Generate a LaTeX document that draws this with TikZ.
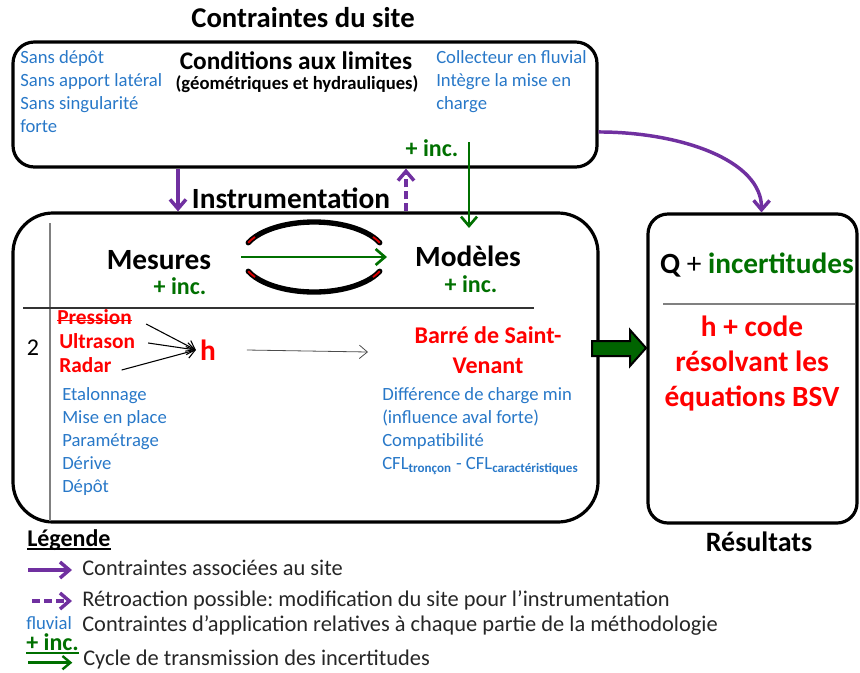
\documentclass[tikz,border=0pt]{standalone}
\usepackage{fontspec}
\setmainfont{Carlito}
\usepackage{xcolor}
\usetikzlibrary{positioning,calc,arrows.meta,fit}

\definecolor{sitepurple}{RGB}{112,48,160}
\definecolor{constrblue}{RGB}{40,120,200}
\definecolor{incgreen}{RGB}{0,112,0}
\definecolor{arrowgreen}{RGB}{0,100,0}
\frenchspacing

\begin{document}
\begin{tikzpicture}[
    x=0.75pt, y=-0.75pt,
    every node/.style={inner sep=0pt},
    box/.style={draw=black, line width=2.4pt},
    bluetxt/.style={text=constrblue, font=\fontsize{14}{17}\selectfont, anchor=west, text height=10pt, text depth=3pt},
    title/.style={font=\bfseries\fontsize{21.5}{25}\selectfont},
    part/.style={font=\bfseries\fontsize{22}{26}\selectfont},
    inc/.style={text=incgreen, font=\bfseries\fontsize{18}{21}\selectfont},
    redtxt/.style={text=red, font=\bfseries\fontsize{16}{19}\selectfont, anchor=west, text height=11pt, text depth=3pt},
    legtxt/.style={text=black!85, font=\fontsize{16.8}{19}\selectfont, anchor=west, text height=11pt, text depth=3.5pt},
    sitearrow/.style={sitepurple, line width=2.6pt, -{Straight Barb[length=7pt,width=12pt]}},
    retroarrow/.style={sitearrow, dash pattern=on 6pt off 3pt},
    incarrow/.style={incgreen, line width=2pt, -{Straight Barb[length=7pt,width=12pt]}},
    harrow/.style={black, line width=0.8pt, -{Straight Barb[length=6pt,width=9pt]}},
    cycle/.style={black, line width=4pt, line cap=round},
]
\useasboundingbox (0,0) rectangle (860,672);

% =====================================================================
% Contraintes du site
% =====================================================================
\node[title] (sitetitle) at (303,18) {Contraintes du site};
\node[box, rounded corners=16pt, fit={(13,42) (597,167)}] (site) {};

\foreach \t [count=\i from 0] in {Sans dépôt, Sans apport latéral, Sans singularité, forte}
    \node[bluetxt] (siteleft\i) at (20,59+23*\i) {\t};
\foreach \t [count=\i from 0] in {Collecteur en fluvial, Intègre la mise en, charge}
    \node[bluetxt] (siteright\i) at (436,59+23*\i) {\t};

\node[font=\bfseries\fontsize{19}{22}\selectfont] (cond) at (296,61) {Conditions aux limites};
\node[font=\bfseries\fontsize{14}{17}\selectfont] (geom) at (297,84) {(géométriques et hydrauliques)};
\node[inc] (incsite) at (432,148) {+ inc.};

% =====================================================================
% Instrumentation : mesures / modeles
% =====================================================================
\node[part] (instrtitle) at (291,198) {Instrumentation};
\node[box, rounded corners=30pt, fit={(13,213) (598,522)}] (instr) {};
\draw[gray, line width=1.1pt] (50,223) -- (50,521);
\draw[black!80, line width=0.8pt] (23,308) -- (534,308);

\node[part] (mesures) at (159,260) {Mesures};
\node[inc] (incmes) at (180,286) {+ inc.};
\node[part] (modeles) at (468,256) {Modèles};
\node[inc] (incmod) at (471,284) {+ inc.};

% cycle between mesures and modeles
\coordinate (cyc) at (314,257);
\draw[cycle] (cyc) ++(204:72 and 35) arc[start angle=204, end angle=336, x radius=72, y radius=35];
\draw[cycle] (cyc) ++(156:72 and 35) arc[start angle=156, end angle=24, x radius=72, y radius=35];
\foreach \a/\b in {204/215, 325/336, 156/145, 24/35}
    \draw[red!85!black, line width=1.4pt] (cyc) ++(\a:72 and 35) arc[start angle=\a, end angle=\b, x radius=72, y radius=35];
\coordinate (cycin) at (241,257);
\coordinate (cycout) at (387,257);
\draw[incarrow] (cycin) -- (cycout);

\node[font=\fontsize{18}{21}\selectfont] (two) at (33,348) {2};

\node[redtxt] (pression) at (57,319) {Pression};
\draw[red, line width=1.2pt] ([yshift=-1pt]pression.west) -- ([yshift=-1pt]pression.east);
\node[redtxt] (ultrason) at (59,343) {Ultrason};
\node[redtxt] (radar) at (59,367) {Radar};
\node[text=red, font=\bfseries\fontsize{22}{26}\selectfont, inner sep=3pt] (h) at (208,350) {h};
\draw[harrow] ($(pression.east)+(14,5)$) -- (h.west);
\draw[harrow] ($(ultrason.east)+(13,0)$) -- (h.west);
\draw[harrow] ($(radar.east)+(10,3)$) -- (h.west);

\node[text=red, font=\bfseries\fontsize{18}{22.5}\selectfont, align=center] (bsv) at (488,350) {Barré de Saint-\\Venant};
\coordinate (hend) at (368,352);
\draw[black!70, line width=0.6pt, -{Straight Barb[length=6pt,width=10pt]}] ([xshift=20pt]h.east) -- (hend);

\foreach \t [count=\i from 0] in {Etalonnage, Mise en place, Paramétrage, Dérive, Dépôt}
    \node[bluetxt] (mesconstr\i) at (62,396+23*\i) {\t};
\foreach \t [count=\i from 0] in {Différence de charge min, (influence aval forte), Compatibilité}
    \node[bluetxt] (modconstr\i) at (382,396+23*\i) {\t};
\node[bluetxt] (cfl) at (382,465) {CFL\textsubscript{\bfseries tronçon} - CFL\textsubscript{\bfseries caractéristiques}};

% =====================================================================
% Resultats
% =====================================================================
\node[box, rounded corners=15pt, fit={(648,214) (857,523)}] (res) {};
\node[part] (q) at (757,265) {Q \mdseries+ \bfseries\textcolor{incgreen}{incertitudes}};
\draw[gray, line width=1.5pt] (663,304) -- (855,304);
\node[text=red, font=\bfseries\fontsize{22}{26.25}\selectfont, align=center] (code) at (752,364) {h + code\\résolvant les\\équations BSV};
\node[font=\bfseries\fontsize{21}{25}\selectfont] (restitle) at (759,542) {Résultats};

% block arrow towards the results
\draw[fill=arrowgreen, draw=black, line width=1.5pt]
    (592,341) -- (630,341) -- (630,330) -- (646,348) -- (630,366) -- (630,356) -- (592,356) -- cycle;

% =====================================================================
% Arrows between the boxes
% =====================================================================
\coordinate (xsite) at (178,0);
\coordinate (xretro) at (406,0);
\draw[sitearrow] (site.south -| xsite) -- (instr.north -| xsite);
\draw[retroarrow] (instr.north -| xretro) -- (site.south -| xretro);
\coordinate (gtop) at (469,142);
\coordinate (gbot) at (469,228);
\draw[incarrow] (gtop) -- (gbot);
\draw[sitearrow] ([yshift=-20.6pt]site.east) .. controls (680,132) and (762,160) .. ([xshift=6.75pt]res.north);

% =====================================================================
% Legende
% =====================================================================
\node[font=\bfseries\fontsize{18}{21}\selectfont, anchor=base west, text depth=0pt] (legtitle) at (27,546) {Légende};
\draw[line width=1.2pt] ([yshift=-2pt]legtitle.south west) -- ([yshift=-2pt]legtitle.south east);
\node[legtxt] (leg1) at (82,570) {Contraintes associées au site};
\node[legtxt] (leg2) at (82,601) {Rétroaction possible: modification du site pour l’instrumentation};
\node[legtxt] (leg3) at (82,626) {Contraintes d’application relatives à chaque partie de la méthodologie};
\node[legtxt] (leg4) at (83,660) {Cycle de transmission des incertitudes};
\node[bluetxt, anchor=base west, text depth=0pt] (legfluvial) at (26,629) {fluvial};
\node[inc, anchor=base west, text depth=0pt, text height=10pt] (leginc) at (26,650) {+ inc.};
\draw[incgreen, line width=1.2pt] ([yshift=-2pt]leginc.south west) -- ([yshift=-2pt]leginc.south east);
\draw[sitearrow] ([xshift=-40.5pt]leg1.west) -- ([xshift=-7.5pt]leg1.west);
\draw[retroarrow] ([xshift=-37.5pt]leg2.west) -- ([xshift=-7.5pt]leg2.west);
\draw[incgreen, line width=1.8pt, -{Straight Barb[length=6pt,width=10pt]}] ([xshift=-41pt,yshift=-2pt]leg4.west) -- ([xshift=-8pt,yshift=-2pt]leg4.west);

\end{tikzpicture}
\end{document}
